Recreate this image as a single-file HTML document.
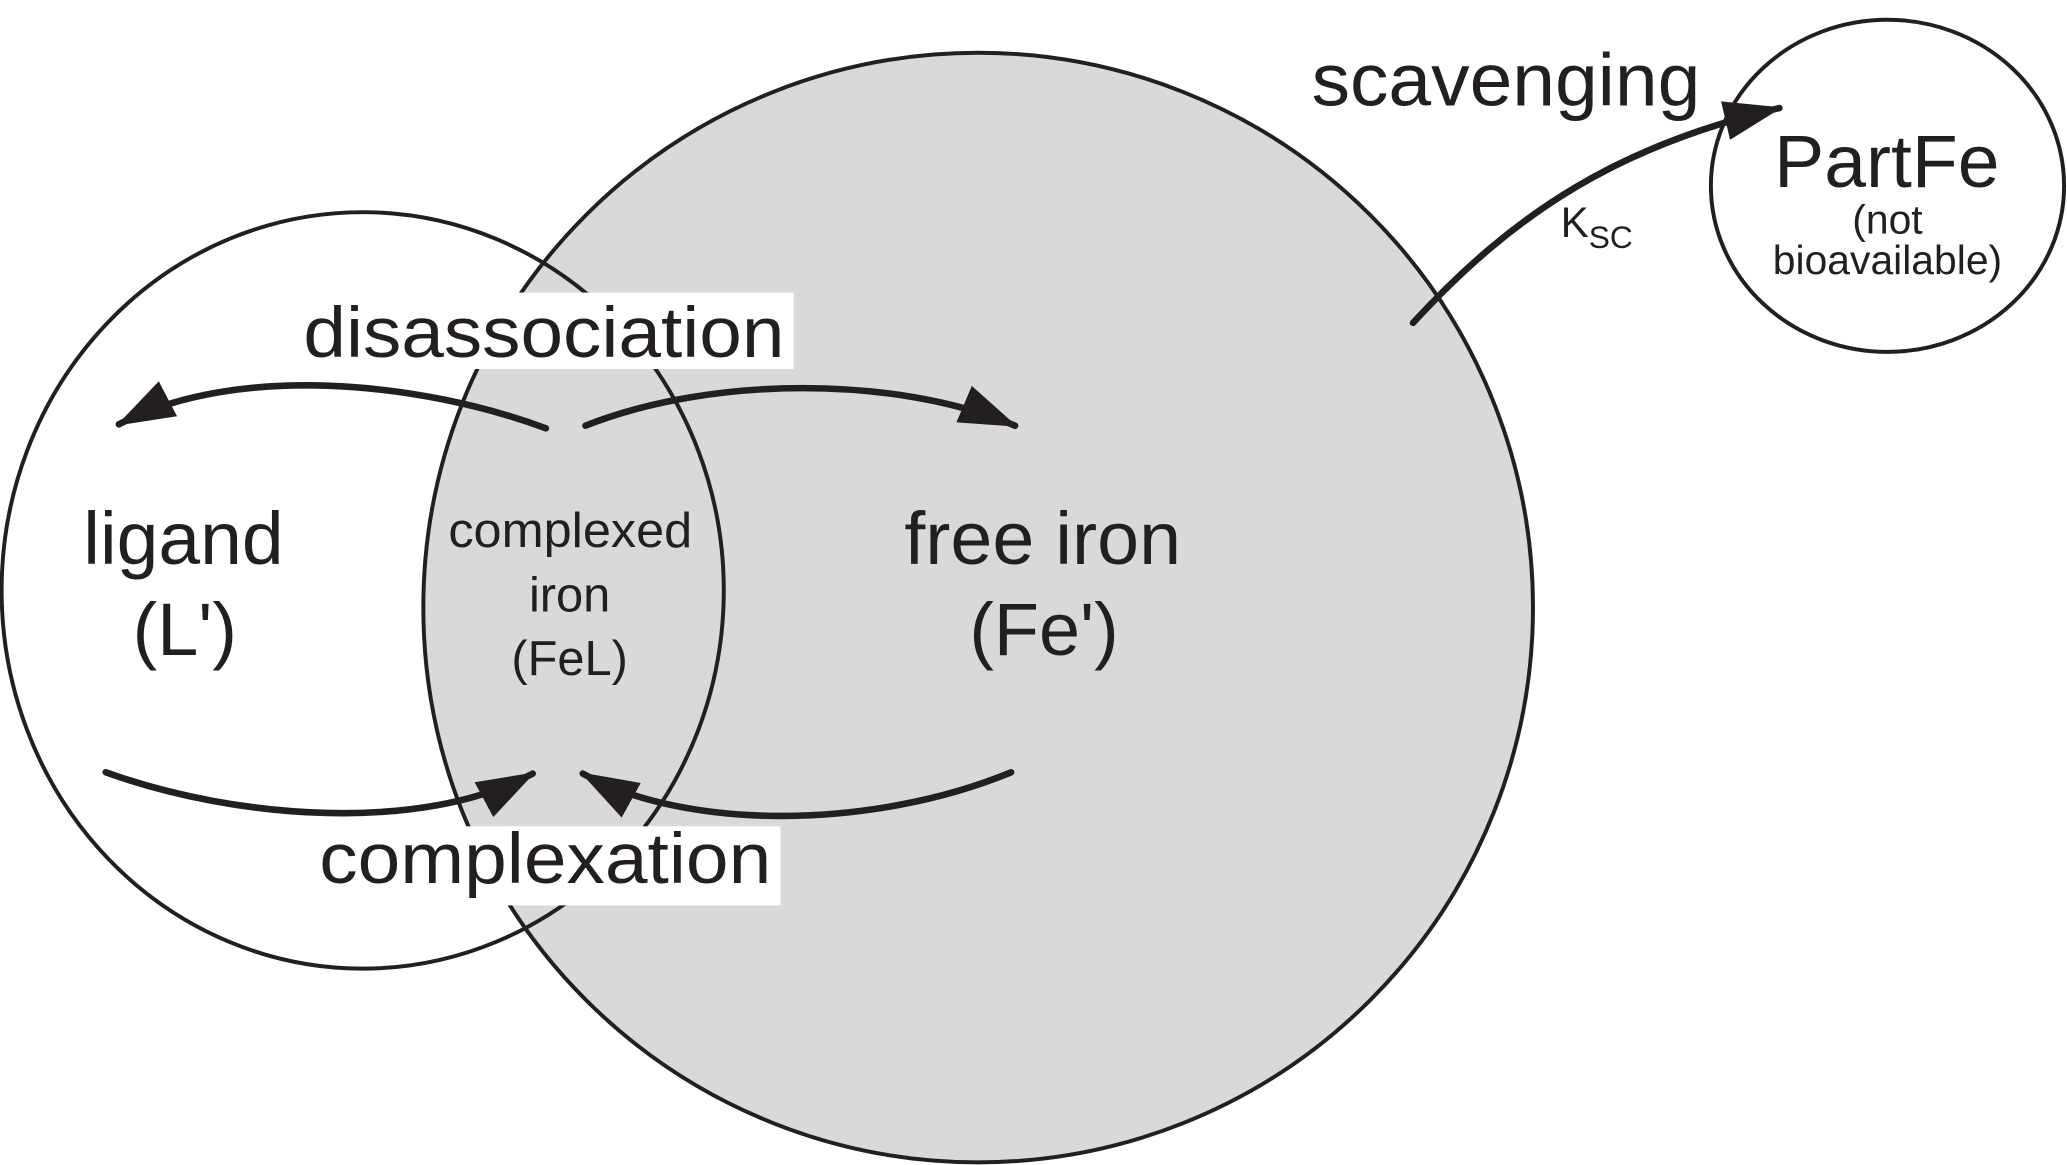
<!DOCTYPE html>
<html><head><meta charset="utf-8"><style>
html,body{margin:0;padding:0;background:#fff;}
svg{display:block;}
text{font-family:"Liberation Sans",Arial,sans-serif;fill:#231f20;}
</style></head><body>
<svg width="2067" height="1165" viewBox="0 0 1568 884" xmlns="http://www.w3.org/2000/svg">
<defs>
<marker id="ah" viewBox="0 0 44 34" refX="42" refY="17" markerWidth="44" markerHeight="34" orient="auto" markerUnits="userSpaceOnUse">
<path d="M0,2 L44,17 L0,32 z" fill="#231f20"/>
</marker>
</defs>
<rect width="1568" height="884" fill="#fff"/>
<circle cx="742" cy="461" r="421" fill="#d9d9d9" stroke="#231f20" stroke-width="3"/>
<ellipse cx="275" cy="448" rx="274" ry="287" fill="none" stroke="#231f20" stroke-width="3"/>
<ellipse cx="1432" cy="141" rx="134" ry="126" fill="#fff" stroke="#231f20" stroke-width="3"/>

<rect x="222" y="222" width="380" height="58" fill="#fff"/>
<rect x="236" y="627" width="356" height="60" fill="#fff"/>
<text x="230" y="271" font-size="54" textLength="365" lengthAdjust="spacingAndGlyphs">disassociation</text>
<text x="242" y="670" font-size="54" textLength="343" lengthAdjust="spacingAndGlyphs">complexation</text>

<g fill="none" stroke="#231f20" stroke-width="5" stroke-linecap="round">
<path d="M414,325 C320,290 180,275 90,322" marker-end="url(#ah)"/>
<path d="M444,323 C540,285 680,285 770,323" marker-end="url(#ah)"/>
<path d="M80,586 C180,622 320,632 404,587" marker-end="url(#ah)"/>
<path d="M767,586 C660,630 520,630 442,587" marker-end="url(#ah)"/>
<path d="M1072,245 C1150,160 1230,110 1350,82" marker-end="url(#ah)"/>
</g>

<text x="63" y="428" font-size="56" textLength="152" lengthAdjust="spacingAndGlyphs">ligand</text>
<text x="140" y="497" font-size="56" text-anchor="middle">(L')</text>
<text x="340" y="415" font-size="37" textLength="185" lengthAdjust="spacingAndGlyphs">complexed</text>
<text x="432" y="464" font-size="37" text-anchor="middle">iron</text>
<text x="432" y="512" font-size="37" text-anchor="middle">(FeL)</text>
<text x="686" y="428" font-size="56" textLength="210" lengthAdjust="spacingAndGlyphs">free iron</text>
<text x="792" y="497" font-size="56" text-anchor="middle">(Fe')</text>
<text x="995" y="80" font-size="56" textLength="295" lengthAdjust="spacingAndGlyphs">scavenging</text>
<text x="1346" y="142" font-size="56" textLength="171" lengthAdjust="spacingAndGlyphs">PartFe</text>
<text x="1432" y="177" font-size="31" text-anchor="middle">(not</text>
<text x="1432" y="208" font-size="31" text-anchor="middle">bioavailable)</text>
<text x="1184" y="180" font-size="32">K<tspan font-size="24" dy="8">SC</tspan></text>
</svg>
</body></html>
